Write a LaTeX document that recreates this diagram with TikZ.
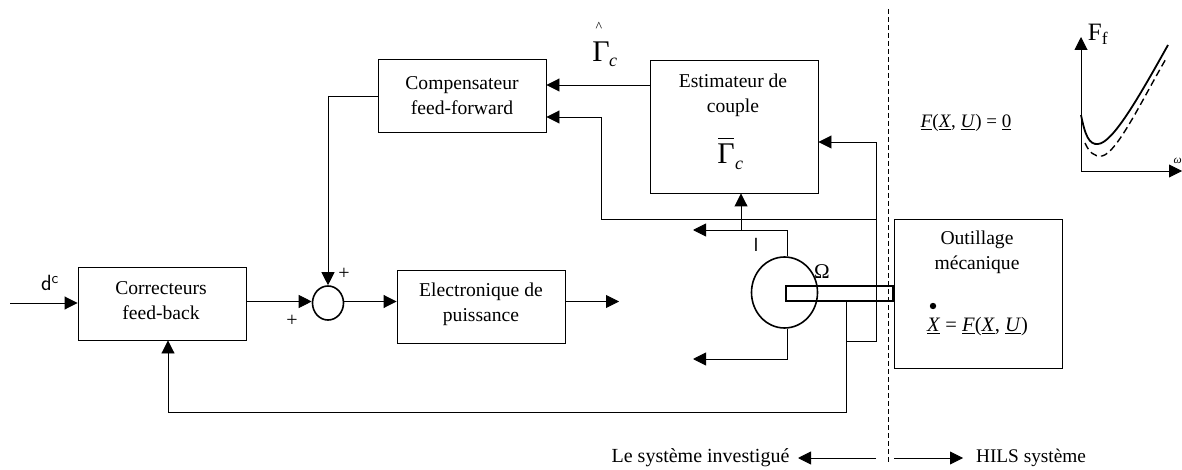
\documentclass[tikz,border=0pt]{standalone}
\usepackage{fontspec}
\setmainfont{Liberation Serif}
\usetikzlibrary{calc, positioning}
\usetikzlibrary{arrows.meta}
\usetikzlibrary{shapes.geometric}
\tikzset{
  boxblock/.style={draw, line width=0.9pt, inner sep=0pt},
  txt/.style={inner sep=0pt, align=center, font=\fontsize{19.6}{25}\selectfont},
  wire/.style={line width=0.9pt},
  flow/.style={line width=0.9pt, -{Triangle[length=13pt, width=13pt]}},
  bigsym/.style={inner sep=0pt, font=\fontsize{30}{30}\selectfont},
  subsym/.style={inner sep=0pt, font=\fontsize{18}{18}\selectfont\itshape},
  eqn/.style={inner sep=0pt, font=\fontsize{19}{21}\selectfont}
}
\begin{document}
\begin{tikzpicture}[x=1pt, y=-1pt]
\useasboundingbox (0,0) rectangle (1182,470);

\node[boxblock, minimum width=168pt, minimum height=73pt] (comp) at (462,96) {};
\node[boxblock, minimum width=168pt, minimum height=133pt] (estim) at (734,126.5) {};
\node[boxblock, minimum width=168pt, minimum height=73pt] (corr) at (162,303.5) {};
\node[boxblock, minimum width=168pt, minimum height=73pt] (power) at (481,306.5) {};
\node[boxblock, minimum width=168pt, minimum height=149pt] (tool) at (978,293.5) {};
\node[draw, ellipse, line width=1.6pt, minimum width=31pt, minimum height=34pt, inner sep=0pt] (sum) at (328,303) {};
\node[draw, ellipse, line width=1.6pt, minimum width=66pt, minimum height=71pt, inner sep=0pt] (motor) at (784.5,292.5) {};
\node[draw, line width=1.6pt, minimum width=107pt, minimum height=15pt, inner sep=0pt] (shaft) at (839.5,293.5) {};

\node[txt] (comptxt) at (462,95.5) {Compensateur\\feed-forward};
\node[txt] (estimtxt) at (733,95) {Estimateur de\\couple};
\node[txt] (corrtxt) at (161,300.5) {Correcteurs\\feed-back};
\node[txt] (powertxt) at (481,304) {Electronique de\\puissance};
\node[txt] (tooltxt) at (977,252.5) {Outillage\\mécanique};
\node[bigsym] (gammahat) at (601,52) {Γ};
\node[subsym] (gammahatc) at (613,62) {c};
\node[inner sep=0pt, font=\fontsize{14}{14}\selectfont] (hat) at (599,27) {\^{}};
\node[bigsym] (gammabar) at (726,154) {Γ};
\node[subsym] (gammabarc) at (739,165) {c};
\draw[line width=1pt] ($(gammabar.north west)+(1,-5)$) coordinate (barl) -- ($(gammabar.north east)+(-1,-5)$) coordinate (barr);
\node[eqn] (eqzero) at (966,123) {\underline{\textit{F}}(\underline{\textit{X}}, \underline{\textit{U}}) = \underline{0}};
\node[eqn, font=\fontsize{20.5}{22}\selectfont] (eqdot) at (977.5,327) {\underline{\textit{X}} = \underline{\textit{F}}(\underline{\textit{X}}, \underline{\textit{U}})};
\fill (933,306) circle (3.2pt);
\node[txt, font=\fontsize{20}{22}\selectfont] (sys) at (700.5,458) {Le système investigué};
\node[txt, font=\fontsize{19.3}{22}\selectfont] (hils) at (1031,458) {HILS système};
\node[inner sep=0pt, font=\fontsize{22}{24}\selectfont\sffamily] (dc) at (50,283) {d\textsuperscript{c}};
\node[txt, font=\fontsize{20}{20}\selectfont] (plusa) at (292,321) {+};
\node[txt, font=\fontsize{20}{20}\selectfont] (plusb) at (344,274) {+};
\node[inner sep=0pt, font=\fontsize{19}{19}\selectfont\sffamily] (curr) at (756,245) {I};
\node[inner sep=0pt, font=\fontsize{21}{21}\selectfont] (omega) at (822,272) {Ω};

\coordinate (in) at (10,303);
\coordinate (powout) at (619,301.5);
\coordinate (up) at (741,230);
\coordinate (curtop) at (787,230);
\coordinate (curbot) at (787,359);
\coordinate (leftup) at (693,230);
\coordinate (leftdown) at (693,359);
\coordinate (tap) at (846,301);
\coordinate (tapa) at (846,341);
\coordinate (tapb) at (876,341);
\coordinate (tapc) at (876,219);
\coordinate (tapd) at (601,219);
\coordinate (back) at (846,412);
\coordinate (backl) at (168,412);

\draw[flow] (in) -- (in -| corr.west);
\draw[flow] (corr.east |- 0,301.5) -- (sum.west |- 0,301.5);
\draw[flow] (sum.east |- 0,301.5) -- (power.west |- 0,301.5);
\draw[flow] (power.east |- 0,301.5) -- (powout);
\draw[wire] (comp.west) -- (328,96) coordinate (corner);
\draw[flow] (corner) -- (sum.north);
\draw[flow] (estim.west |- 0,85) -- (comp.east |- 0,85);
\draw[flow] (tapd) -- (601,117) -- (comp.east |- 0,117);
\draw[flow] (tapa) -- (tapb) -- (tapc |- 0,142) -- (estim.east |- 0,142);
\draw[wire] (tapb |- tapc) -- (tapd);
\draw[wire] (tap) -- (tapa);
\draw[flow] (up) -- (up |- estim.south);
\draw[wire] (motor.north -| curtop) -- (curtop);
\draw[flow] (curtop) -- (leftup);
\draw[flow] (motor.south -| curbot) -- (curbot) -- (leftdown);
\draw[flow] (tapa) -- (back) -- (backl) -- (backl |- corr.south);

\draw[line width=0.9pt, dash pattern=on 5pt off 3pt] (888,9) coordinate (cuta) -- (888,462) coordinate (cutb);
\draw[flow] (876,458) coordinate (lstart) -- (798,458) coordinate (lend);
\draw[flow] (894,458) coordinate (rstart) -- (963,458) coordinate (rend);

\coordinate (origin) at (1081,171);
\draw[flow] (origin) -- (1081,37);
\draw[flow] (origin) -- (1182,171);
\node[inner sep=0pt, font=\fontsize{25}{25}\selectfont] (ff) at (1098,34) {F\textsubscript{f}};
\node[anchor=west, inner sep=0pt, font=\fontsize{11.5}{12}\selectfont\itshape] (wlabel) at (1173.5,161) {ω};
\draw[line width=1.8pt] (1081,115) .. controls (1085,135) and (1089,145) .. (1098,144) .. controls (1113,143) and (1140,95) .. (1168,45);
\draw[line width=1.4pt, dash pattern=on 7pt off 4pt] (1085,143) .. controls (1089,152) and (1094,157) .. (1102,156) .. controls (1117,153) and (1142,100) .. (1167,57);
\end{tikzpicture}
\end{document}
